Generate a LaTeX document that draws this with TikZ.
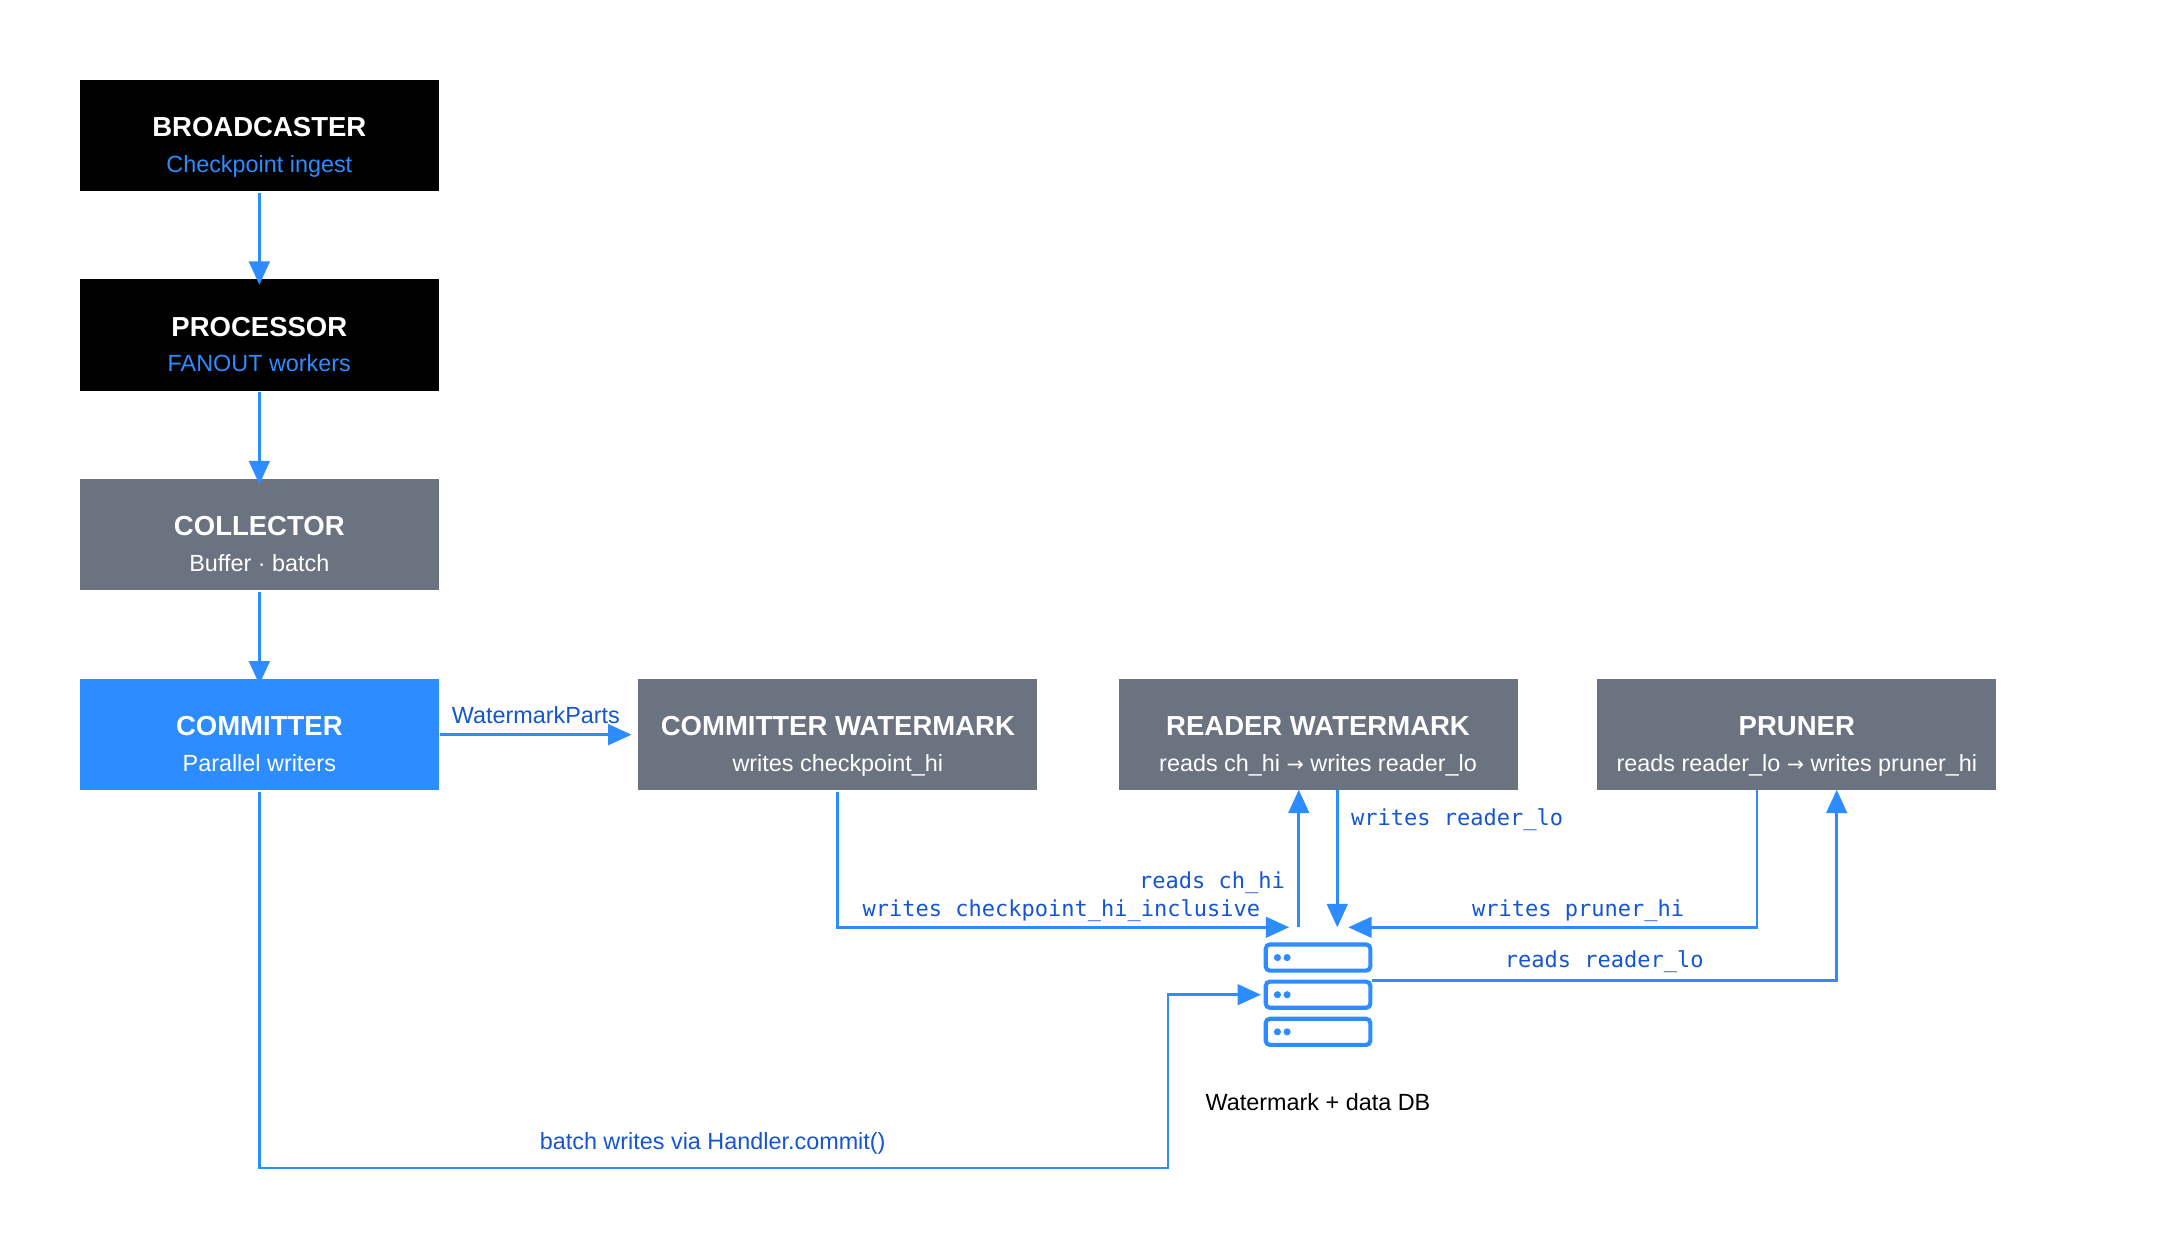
\documentclass[tikz,border=0pt]{standalone}
\usepackage{fontspec}
\setmainfont{Liberation Sans}
\setmonofont{DejaVu Sans Mono}
\newfontfamily\arr{DejaVu Sans}
\usetikzlibrary{arrows.meta,positioning}
\definecolor{blueA}{RGB}{45,140,255}
\definecolor{blueT}{RGB}{20,85,210}
\definecolor{grayB}{RGB}{107,114,128}
\tikzset{every picture/.style={line width=2pt},
  stage/.style={minimum width=261pt,minimum height=81pt,inner sep=0pt,text=white,font=\fontsize{20}{25}\selectfont\bfseries},
  flow/.style={draw=blueA,-{Triangle[length=17pt,width=15pt]}},
  lbl/.style={text=blueT,font=\ttfamily\fontsize{16}{18}\selectfont,inner sep=0pt},
  dbrow/.style={draw=blueA,line width=3pt,rounded corners=3pt,minimum width=76pt,minimum height=19pt,inner sep=0pt}}
\newcommand{\stg}[3]{\smash{\raisebox{-14pt}{\begin{tabular}{@{}c@{}}#1\\[1pt]{\fontsize{17}{20}\selectfont\mdseries\color{#2}#3}\end{tabular}}}}
\newcommand{\ra}{{\arr\fontsize{15}{20}\selectfont →}}
\begin{document}
\begin{tikzpicture}[x=1pt,y=-1pt]
	\useasboundingbox (0,0) rectangle (1570,901);
	% stages
	\node[stage,fill=black] (bc) at (188.5,98.5) {\stg{BROADCASTER}{blueA}{Checkpoint ingest}};
	\node[stage,fill=black] (pr) at (188.5,243.5) {\stg{PROCESSOR}{blueA}{FANOUT workers}};
	\node[stage,fill=grayB] (co) at (188.5,388.5) {\stg{COLLECTOR}{white}{Buffer · batch}};
	\node[stage,fill=blueA] (cm) at (188.5,534) {\stg{COMMITTER}{white}{Parallel writers}};
	\node[stage,fill=grayB,minimum width=290pt] (cw) at (609,534) {\stg{COMMITTER WATERMARK}{white}{writes checkpoint\_hi}};
	\node[stage,fill=grayB,minimum width=290pt] (rw) at (958,534) {\stg{READER WATERMARK}{white}{reads ch\_hi \ra{} writes reader\_lo}};
	\node[stage,fill=grayB,minimum width=290pt] (pn) at (1306,534) {\stg{PRUNER}{white}{reads reader\_lo \ra{} writes pruner\_hi}};
	% database
	\node[dbrow] (db1) at (958,696) {};
	\node[dbrow] (db2) at (958,723) {};
	\node[dbrow] (db3) at (958,750) {};
	\foreach \r in {db1,db2,db3}
		\fill[blueA] ([xshift=10pt]\r.west) circle (2.6pt) ([xshift=17pt]\r.west) circle (2.6pt);
	\node[font=\fontsize{17}{20}\selectfont] (dbl) at (958,801) {Watermark + data DB};
	% pipeline
	\draw[flow] (bc) -- ([yshift=-5pt]pr.north);
	\draw[flow] (pr) -- ([yshift=-5pt]co.north);
	\draw[flow] (co) -- ([yshift=-5pt]cm.north);
	\draw[flow] (cm) -- node[above=7pt,text=blueT,font=\fontsize{17}{20}\selectfont,inner sep=0pt] {WatermarkParts} ([xshift=-4pt]cw.west);
	% watermark traffic
	\coordinate (cwin) at (937,674);
	\draw[flow] (cw.south) |- (cwin);
	\node[lbl,anchor=base east] (l1) at (917,666) {writes checkpoint\_hi\_inclusive};
	\draw[flow] (944,674) -- (944,574);
	\node[lbl,anchor=base east] (l2) at (935,646) {reads ch\_hi};
	\draw[flow] (972,574) -- (972,674);
	\node[lbl,anchor=base west] (l3) at (981,600) {writes reader\_lo};
	\coordinate (pnin) at (980,674);
	\draw[flow] (1277,574) |- (pnin);
	\node[lbl,anchor=base] (l4) at (1147,666) {writes pruner\_hi};
	\draw[flow] ([yshift=-5.5pt]db1.south east) -| (1335,574);
	\node[lbl,anchor=base] (l5) at (1166,703) {reads reader\_lo};
	\coordinate (cmb) at (849,849);
	\draw[flow] (cm.south) |- (cmb) |- ([xshift=-2pt]db2.west);
	\node[text=blueT,font=\fontsize{17}{20}\selectfont,inner sep=0pt] (l6) at (518,831) {batch writes via Handler.commit()};
\end{tikzpicture}
\end{document}
